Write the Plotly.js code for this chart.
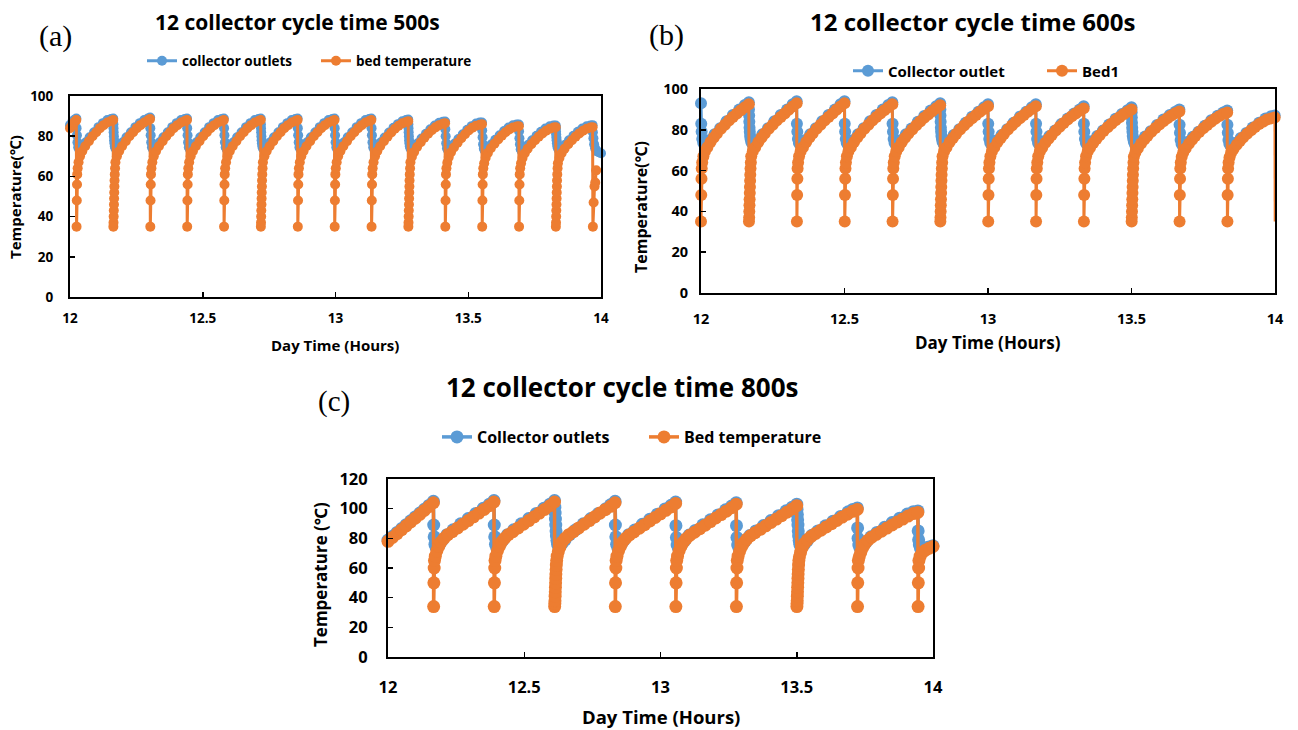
<!DOCTYPE html>
<html>
<head>
<meta charset="utf-8">
<script src="https://cdn.plot.ly/plotly-3.0.1.min.js"></script>
<style>html,body{margin:0;padding:0;background:#fff;}#chart{width:1298px;height:730px;}</style>
</head>
<body>
<div id="chart"></div>
<script>
// ---------- DATA (time in seconds after 12:00, temperatures in °C) ----------
// Panel (a): 12 collector, cycle time 500 s
const aColSec = [0,30,60,
 86,89,94,101,111,126,146,176,216,266,326,386,446,506,556,
 586,588,590,592,595,598,602,608,616,631,646,676,716,766,826,886,946,1006,1056,
 1086,1089,1094,1101,1111,1126,1146,1176,1216,1266,1326,1386,1446,1506,1556,
 1586,1589,1594,1601,1611,1626,1646,1676,1716,1766,1826,1886,1946,2006,2056,
 2086,2089,2094,2101,2111,2126,2146,2176,2216,2266,2326,2386,2446,2506,2556,
 2586,2588,2590,2592,2595,2598,2602,2608,2616,2631,2646,2676,2716,2766,2826,2886,2946,3006,3056,
 3086,3089,3094,3101,3111,3126,3146,3176,3216,3266,3326,3386,3446,3506,3556,
 3586,3589,3594,3601,3611,3626,3646,3676,3716,3766,3826,3886,3946,4006,4056,
 4086,4089,4094,4101,4111,4126,4146,4176,4216,4266,4326,4386,4446,4506,4556,
 4586,4588,4590,4592,4595,4598,4602,4608,4616,4631,4646,4676,4716,4766,4826,4886,4946,5006,5056,
 5086,5089,5094,5101,5111,5126,5146,5176,5216,5266,5326,5386,5446,5506,5556,
 5586,5589,5594,5601,5611,5626,5646,5676,5716,5766,5826,5886,5946,6006,6056,
 6086,6089,6094,6101,6111,6126,6146,6176,6216,6266,6326,6386,6446,6506,6556,
 6586,6588,6590,6592,6595,6598,6602,6608,6616,6631,6646,6676,6716,6766,6826,6886,6946,7006,7056,
 7086,7090,7097,7107,7120,7140,7170,7200];
const aColTemp = [85.5,87,88.2,
 88.8,84,80.5,77,74.5,73.5,73.8,75,77,79.5,82,84.5,86.5,88,88.5,
 88.8,86,84,82,80,78,76.5,75,74,73.5,73.8,75,77,79.5,82,84.5,86.5,88,88.8,
 89.3,84,80.5,77,74.5,73.5,73.8,75,77,79.5,82,84.5,86.5,88,88.5,
 88.8,84,80.5,77,74.5,73.5,73.8,75,77,79.5,82,84.5,86.5,88,88.5,
 88.8,84,80.5,77,74.5,73.5,73.8,75,77,79.5,82,84.5,86.5,88,88.5,
 88.8,86,84,82,80,78,76.5,75,74,73.5,73.8,75,77,79.5,82,84.5,86.5,88,88.5,
 88.8,84,80.5,77,74.5,73.5,73.8,75,77,79.5,82,84.5,86.5,88,88.5,
 88.8,84,80.5,77,74.5,73.5,73.8,75,77,79.5,82,84.5,86.5,88,88.5,
 88.8,84,80.5,77,74.5,73.5,73.8,75,77,79.3,81.8,84.2,86,87.4,88,
 88.3,86,84,82,80,78,76.5,75,74,73.3,73.5,74.6,76.5,78.8,81.2,83.4,85.3,86.7,87.2,
 87.3,83.5,80,76.5,74,73,73.3,74.5,76.4,78.6,81,83.2,85,86.3,86.8,
 86.8,83,79.5,76,73.8,72.8,73,74.2,76,78.2,80.5,82.6,84.3,85.4,85.8,
 85.8,82.5,79,76,73.5,72.5,72.7,74,75.8,78,80.2,82.2,83.8,84.9,85.3,
 85.3,84,82.5,81,79.5,78,76.5,75,74,73,72.8,74,75.8,78,80.2,82.2,83.8,84.9,85.3,
 85.5,82,79,76,74,72.5,72,71.5];
const aBedSec = [0,30,60,
 86,89,92,95,98,104,116,136,166,206,256,306,356,406,456,506,556,
 586,588,590,592,594,596,598,600,602,604,607,611,616,636,666,706,756,806,856,906,956,1006,1056,
 1086,1089,1092,1095,1098,1104,1116,1136,1166,1206,1256,1306,1356,1406,1456,1506,1556,
 1586,1589,1592,1595,1598,1604,1616,1636,1666,1706,1756,1806,1856,1906,1956,2006,2056,
 2086,2089,2092,2095,2098,2104,2116,2136,2166,2206,2256,2306,2356,2406,2456,2506,2556,
 2586,2588,2590,2592,2594,2596,2598,2600,2602,2604,2607,2611,2616,2636,2666,2706,2756,2806,2856,2906,2956,3006,3056,
 3086,3089,3092,3095,3098,3104,3116,3136,3166,3206,3256,3306,3356,3406,3456,3506,3556,
 3586,3589,3592,3595,3598,3604,3616,3636,3666,3706,3756,3806,3856,3906,3956,4006,4056,
 4086,4089,4092,4095,4098,4104,4116,4136,4166,4206,4256,4306,4356,4406,4456,4506,4556,
 4586,4588,4590,4592,4594,4596,4598,4600,4602,4604,4607,4611,4616,4636,4666,4706,4756,4806,4856,4906,4956,5006,5056,
 5086,5089,5092,5095,5098,5104,5116,5136,5166,5206,5256,5306,5356,5406,5456,5506,5556,
 5586,5589,5592,5595,5598,5604,5616,5636,5666,5706,5756,5806,5856,5906,5956,6006,6056,
 6086,6089,6092,6095,6098,6104,6116,6136,6166,6206,6256,6306,6356,6406,6456,6506,6556,
 6586,6588,6590,6592,6594,6596,6598,6600,6602,6604,6607,6611,6616,6636,6666,6706,6756,6806,6856,6906,6956,7006,7056,
 7086,7090,7100,7112,7122,7135];
const aBedTemp = [84,85.5,87,
 88,35,48,56,61,64,67,70,72.5,75,77.5,80,82,84,85.5,86.8,87.6,
 88,35,37,40,43,46,49,52,55,58,61,64,67,70,72.5,75,77.5,80,82,84,85.5,86.8,87.9,
 88.5,35,48,56,61,64,67,70,72.5,75,77.5,80,82,84,85.5,86.8,87.6,
 88,35,48,56,61,64,67,70,72.5,75,77.5,80,82,84,85.5,86.8,87.6,
 88,35,48,56,61,64,67,70,72.5,75,77.5,80,82,84,85.5,86.8,87.6,
 88,35,37,40,43,46,49,52,55,58,61,64,67,70,72.5,75,77.5,80,82,84,85.5,86.8,87.6,
 88,35,48,56,61,64,67,70,72.5,75,77.5,80,82,84,85.5,86.8,87.6,
 88,35,48,56,61,64,67,70,72.5,75,77.5,80,82,84,85.5,86.8,87.6,
 88,35,48,56,61,64,67,70,72.5,75,77.5,79.8,81.8,83.7,85.2,86.4,87.1,
 87.5,35,37,40,43,46,49,52,55,58,61,64,67,69.8,72.2,74.6,77,79.3,81.2,83,84.4,85.5,86.2,
 86.5,35,48,56,61,64,66.8,69.6,72,74.4,76.8,79,81,82.8,84.2,85.2,85.7,
 86,35,48,56,61,64,66.5,69.3,71.7,74,76.3,78.4,80.3,82,83.3,84.3,84.8,
 85,35,48,56,61,64,66.5,69.2,71.5,73.8,76,78,79.8,81.4,82.7,83.7,84.3,
 84.5,35,37,40,43,46,49,52,55,58,61,64,66.5,69.2,71.5,73.8,76,78,79.8,81.4,82.7,83.7,84.3,
 84.5,35,47,55,57,63];

// Panel (b): 12 collector, cycle time 600 s
const bColSec = [0,3,8,16,28,45,70,110,170,240,320,400,480,550,
 600,602,604,606,609,612,616,622,630,645,670,710,770,840,920,1000,1080,1150,
 1200,1203,1208,1216,1228,1245,1270,1310,1370,1440,1520,1600,1680,1750,
 1800,1803,1808,1816,1828,1845,1870,1910,1970,2040,2120,2200,2280,2350,
 2400,2403,2408,2416,2428,2445,2470,2510,2570,2640,2720,2800,2880,2950,
 3000,3002,3004,3006,3009,3012,3016,3022,3030,3045,3070,3110,3170,3240,3320,3400,3480,3550,
 3600,3603,3608,3616,3628,3645,3670,3710,3770,3840,3920,4000,4080,4150,
 4200,4203,4208,4216,4228,4245,4270,4310,4370,4440,4520,4600,4680,4750,
 4800,4803,4808,4816,4828,4845,4870,4910,4970,5040,5120,5200,5280,5350,
 5400,5402,5404,5406,5409,5412,5416,5422,5430,5445,5470,5510,5570,5640,5720,5800,5880,5950,
 6000,6003,6008,6016,6028,6045,6070,6110,6170,6240,6320,6400,6480,6550,
 6600,6603,6608,6616,6628,6645,6670,6710,6770,6840,6920,7000,7080,7150,
 7196];
const bColTemp = [93,83,79,75.5,73.5,73,73.5,75,77.8,80.8,84.2,87.2,90,92.2,
 93.5,90,87,84,81,79,77,75.5,74,73,73.5,75,77.8,80.8,84.2,87.2,90,92.5,
 94,83,79,75.5,73.5,73,73.5,75,77.8,80.8,84.2,87.2,90,92.5,
 94,83,79,75.5,73.5,73,73.5,75,77.8,80.8,84.2,87.2,90,92.2,
 93.5,83,79,75.5,73.5,73,73.5,75,77.8,80.6,83.9,86.8,89.5,91.6,
 93,90,87,84,81,79,77,75.5,74,73,73.3,74.9,77.5,80.3,83.5,86.4,88.9,91,
 92.5,83,79,75.5,73.5,73,73.3,74.9,77.5,80.3,83.5,86.4,88.9,91,
 92.5,83,79,75.5,73.5,72.8,73,74.5,77,79.7,82.8,85.6,88,90,
 91.5,83,79,75.5,73.5,72.8,73,74.5,77,79.6,82.6,85.4,87.7,89.6,
 91,88.5,86,83.5,81,79,77,75.5,74,72.8,73,74.3,76.7,79.3,82.3,85,87.2,88.9,
 90,82.5,78.5,75,73,72.5,72.8,74.2,76.6,79.1,82,84.7,86.9,88.5,
 89.5,82.5,78.5,75,73,72.3,72.5,73.7,76,78.4,81.1,83.5,85.5,86.6,
 87];
const bBedSec = [0,3,6,9,15,30,50,80,120,160,200,250,300,350,400,450,500,550,
 600,602,604,606,608,610,612,614,616,618,621,625,630,650,680,720,760,800,850,900,950,1000,1050,1100,1150,
 1200,1203,1206,1209,1212,1218,1230,1250,1280,1320,1360,1400,1450,1500,1550,1600,1650,1700,1750,
 1800,1803,1806,1809,1812,1818,1830,1850,1880,1920,1960,2000,2050,2100,2150,2200,2250,2300,2350,
 2400,2403,2406,2409,2412,2418,2430,2450,2480,2520,2560,2600,2650,2700,2750,2800,2850,2900,2950,
 3000,3002,3004,3006,3008,3010,3012,3014,3016,3018,3021,3025,3030,3050,3080,3120,3160,3200,3250,3300,3350,3400,3450,3500,3550,
 3600,3603,3606,3609,3612,3618,3630,3650,3680,3720,3760,3800,3850,3900,3950,4000,4050,4100,4150,
 4200,4203,4206,4209,4212,4218,4230,4250,4280,4320,4360,4400,4450,4500,4550,4600,4650,4700,4750,
 4800,4803,4806,4809,4812,4818,4830,4850,4880,4920,4960,5000,5050,5100,5150,5200,5250,5300,5350,
 5400,5402,5404,5406,5408,5410,5412,5414,5416,5418,5421,5425,5430,5450,5480,5520,5560,5600,5650,5700,5750,5800,5850,5900,5950,
 6000,6003,6006,6009,6012,6018,6030,6050,6080,6120,6160,6200,6250,6300,6350,6400,6450,6500,6550,
 6600,6603,6606,6609,6612,6618,6630,6650,6680,6720,6760,6800,6850,6900,6950,7000,7050,7100,7150,
 7196];
const bBedTemp = [35,48,56,61,64,67,69.5,71.5,74,76.2,78.2,80.5,82.5,84.5,86.3,88,89.6,91.1,
 92.5,35,37,40,43,46,49,52,55,58,61,64,67,69.5,71.5,74,76.2,78.2,80.5,82.5,84.5,86.3,88,89.8,91.4,
 93,35,48,56,61,64,67,69.5,71.5,74,76.2,78.2,80.5,82.5,84.5,86.3,88,89.8,91.4,
 93,35,48,56,61,64,67,69.5,71.5,74,76.2,78.2,80.5,82.5,84.5,86.3,88,89.6,91.1,
 92.5,35,48,56,61,64,67,69.5,71.5,74,76.1,78,80.2,82.2,84.1,85.9,87.5,89.1,90.6,
 92,35,37,40,43,46,49,52,55,58,61,64,67,69.5,71.5,74,76,77.9,80.1,82.1,84,85.7,87.3,88.8,90.2,
 91.5,35,48,56,61,64,67,69.5,71.5,74,76,77.9,80.1,82.1,84,85.7,87.3,88.8,90.2,
 91.5,35,48,56,61,64,67,69.3,71.2,73.6,75.6,77.5,79.6,81.5,83.3,85,86.6,88,89.3,
 90.5,35,48,56,61,64,67,69.3,71.2,73.5,75.5,77.3,79.4,81.3,83,84.7,86.2,87.6,88.9,
 90,35,37,40,43,46,49,52,55,58,61,64,66.8,69,71,73.3,75.2,77,79,80.9,82.6,84.2,85.7,87,88.1,
 89,35,48,56,61,64,66.8,69,71,73.2,75.1,76.9,78.9,80.7,82.4,84,85.4,86.7,87.7,
 88.5,35,48,56,61,64,66.5,68.7,70.6,72.7,74.5,76.2,78.1,79.8,81.4,82.8,84,85,85.6,
 86];
const bTailSec = [7196,7199.6];
const bTailTemp = [86,35];

// Panel (c): 12 collector, cycle time 800 s
const cColSec = [0,60,120,180,240,300,360,420,480,540,
 600,604,610,620,635,655,680,720,780,860,960,1060,1160,1260,1340,
 1400,1404,1410,1420,1435,1455,1480,1520,1580,1660,1760,1860,1960,2060,2140,
 2200,2204,2208,2212,2216,2220,2225,2232,2240,2255,2275,2300,2340,2400,2480,2580,2680,2780,2880,2940,
 3000,3004,3010,3020,3035,3055,3080,3120,3180,3260,3360,3460,3560,3660,3740,
 3800,3804,3810,3820,3835,3855,3880,3920,3980,4060,4160,4260,4360,4460,4540,
 4600,4604,4610,4620,4635,4655,4680,4720,4780,4860,4960,5060,5160,5260,5340,
 5400,5404,5408,5412,5416,5420,5425,5432,5440,5455,5475,5500,5540,5600,5680,5780,5880,5980,6080,6140,
 6200,6204,6210,6220,6235,6255,6280,6320,6380,6460,6560,6660,6760,6860,6940,
 7000,7004,7010,7020,7035,7055,7080,7120,7160,7200];
const cColTemp = [78.8,81.4,84,86.6,89.2,91.8,94.4,97,99.6,102.2,
 105,89,81,76,74,74.5,76,78.8,82.5,85.8,89.8,93.3,96.8,100.3,103,
 105.5,89,81,76,74,74.5,76,78.8,82.5,85.8,89.8,93.3,96.8,100.3,103,
 105.5,101,97,93,89,85,81.5,78.5,76,74.5,75,76.5,79,82.5,85.8,89.8,93.3,96.8,100,102.6,
 105,89,81,76,74,74.5,76,78.8,82.5,85.6,89.5,92.9,96.3,99.8,102.3,
 104.5,88.5,80.5,75.5,73.8,74.3,75.8,78.5,82.2,85.3,89.1,92.5,95.8,99.2,101.8,
 104,88.5,80.5,75.5,73.8,74.2,75.6,78.3,81.9,85,88.6,92,95.3,98.6,101,
 103,99.5,96,92.5,89,85,81.5,78.5,76,74.3,74.5,76,78.5,82,85,88.4,91.6,94.8,97.9,99.5,
 100.5,87,80,75.5,73.5,73.8,75,77.6,81,84,87.4,90.6,93.6,96.4,98,
 98.5,85,79,75.5,73.3,72.8,73.2,73.8,74.3,75];
const cBedSec = [0,60,120,180,240,300,360,420,480,540,
 600,603,606,610,614,625,645,670,700,740,790,850,920,990,1060,1130,1200,1270,1340,
 1400,1403,1406,1410,1414,1425,1445,1470,1500,1540,1590,1650,1720,1790,1860,1930,2000,2070,2140,
 2200,2202,2204,2206,2208,2210,2212,2214,2216,2218,2221,2224,2228,2235,2250,2270,2300,2340,2390,2450,2520,2590,2660,2730,2800,2870,2940,
 3000,3003,3006,3010,3014,3025,3045,3070,3100,3140,3190,3250,3320,3390,3460,3530,3600,3670,3740,
 3800,3803,3806,3810,3814,3825,3845,3870,3900,3940,3990,4050,4120,4190,4260,4330,4400,4470,4540,
 4600,4603,4606,4610,4614,4625,4645,4670,4700,4740,4790,4850,4920,4990,5060,5130,5200,5270,5340,
 5400,5402,5404,5406,5408,5410,5412,5414,5416,5418,5421,5424,5428,5435,5450,5470,5500,5540,5590,5650,5720,5790,5860,5930,6000,6070,6140,
 6200,6203,6206,6210,6214,6225,6245,6270,6300,6340,6390,6450,6520,6590,6660,6730,6800,6870,6940,
 7000,7003,7006,7010,7014,7030,7060,7100,7150,7200];
const cBedTemp = [78,80.6,83.2,85.8,88.4,91,93.6,96.2,98.8,101.4,
 104,34,50,60,65,68,71.5,74.5,77.5,80,82.5,84.5,87,89.5,92,94.5,97,99.5,102,
 104.5,34,50,60,65,68,71.5,74.5,77.5,80,82.5,84.5,87,89.5,92,94.5,97,99.5,102,
 104.5,34,36,38,41,44,47,50,53,56,59,62,65,68,71,74,77.5,80,82.5,84.5,87,89.5,92,94.5,97,99.3,101.6,
 104,34,50,60,65,68,71.5,74.5,77.5,80,82.3,84.3,86.8,89.2,91.7,94.1,96.5,98.9,101.2,
 103.5,34,50,60,65,68,71.5,74.5,77.3,79.8,82.1,84.1,86.5,88.9,91.3,93.7,96,98.3,100.7,
 103,34,50,60,65,68,71.3,74.2,77,79.5,81.8,83.8,86.1,88.4,90.7,93,95.3,97.6,99.8,
 102,34,36,38,41,44,47,50,53,56,59,62,65,67.5,70.5,73.5,76.5,79,81.3,83.3,85.5,87.7,89.9,92.1,94.3,96.3,98.2,
 99.5,34,50,60,65,67.5,70.5,73.5,76.3,78.7,80.8,82.7,84.8,86.9,89,91,93,95,96.7,
 97.5,34,50,60,65,68,70.5,72,73.3,74.5];

// Text
const titles = ['12 collector cycle time 500s','12 collector cycle time 600s','12 collector cycle time 800s'];
const panelLabels = ['(a)','(b)','(c)'];
const legendNames = [['collector outlets','bed temperature'],['Collector outlet','Bed1'],['Collector outlets','Bed temperature']];
const yTitles = ['Temperature(\u2103)','Temperature(\u2103)','Temperature (\u2103)'];
const xTitle = 'Day Time (Hours)';
const xTickVals = [12,12.5,13,13.5,14];
const xTickText = ['12','12.5','13','13.5','14'];

// ---------- PLOT ----------
const W = 1298, H = 730;
const BLUE = '#5B9BD5', ORANGE = '#ED7D31';
const FONT = 'Open Sans, Noto Sans, DejaVu Sans, sans-serif';
const toHours = s => s.map(v => 12 + v / 3600);
const px = x => x / W, py = y => 1 - y / H;

function series(sec, temp, name, color, ax, legend, msize, lw) {
  return {
    x: toHours(sec), y: temp, name: name, type: 'scatter', mode: 'lines+markers',
    xaxis: 'x' + ax, yaxis: 'y' + ax, legend: legend,
    line: {color: color, width: lw}, marker: {color: color, size: msize, line: {width: 0}},
    cliponaxis: false, hoverinfo: 'skip'
  };
}

const data = [
  series(aColSec, aColTemp, legendNames[0][0], BLUE, '', 'legend', 10, 3),
  series(aBedSec, aBedTemp, legendNames[0][1], ORANGE, '', 'legend', 10, 3),
  series(bColSec, bColTemp, legendNames[1][0], BLUE, '2', 'legend2', 12, 3),
  series(bBedSec, bBedTemp, legendNames[1][1], ORANGE, '2', 'legend2', 12, 3),
  {x: toHours(bTailSec), y: bTailTemp, type: 'scatter', mode: 'lines', xaxis: 'x2', yaxis: 'y2',
   line: {color: ORANGE, width: 2.5}, showlegend: false, hoverinfo: 'skip'},
  series(cColSec, cColTemp, legendNames[2][0], BLUE, '3', 'legend3', 13, 3.5),
  series(cBedSec, cBedTemp, legendNames[2][1], ORANGE, '3', 'legend3', 13, 3.5)
];

function xAx(dom, anchor, fs, standoff) {
  return {domain: dom, anchor: anchor, range: [12, 14], tickvals: xTickVals, ticktext: xTickText,
    showline: true, linecolor: '#000', linewidth: 2, mirror: true, ticks: 'inside', ticklen: 5,
    tickwidth: 1.5, tickcolor: '#000', showgrid: false, zeroline: false, ticklabelstandoff: standoff,
    tickfont: {family: FONT, size: fs, color: '#000', weight: 'bold'}, fixedrange: true};
}
function yAx(dom, anchor, range, dtick, fs, standoff) {
  return {domain: dom, anchor: anchor, range: range, dtick: dtick, tick0: 0,
    showline: true, linecolor: '#000', linewidth: 2, mirror: true, ticks: 'inside', ticklen: 5,
    tickwidth: 1.5, tickcolor: '#000', showgrid: false, zeroline: false, ticklabelstandoff: standoff,
    tickfont: {family: FONT, size: fs, color: '#000', weight: 'bold'}, fixedrange: true};
}

function ann(text, x, y, size, opts) {
  return Object.assign({text: text, x: px(x), y: py(y), xref: 'paper', yref: 'paper',
    xanchor: 'center', yanchor: 'middle', showarrow: false,
    font: {family: FONT, size: size, color: '#000', weight: 'bold'}}, opts || {});
}
const SERIF = 'Liberation Serif, DejaVu Serif, serif';

function leg(x, y, fs, ew) {
  return {orientation: 'h', x: px(x), y: py(y), xanchor: 'left', yanchor: 'middle',
    bgcolor: 'rgba(0,0,0,0)', entrywidth: ew, entrywidthmode: 'pixels',
    font: {family: FONT, size: fs, color: '#000', weight: 'bold'}, traceorder: 'normal'};
}

const layout = {
  width: W, height: H, margin: {l: 0, r: 0, t: 0, b: 0},
  paper_bgcolor: '#fff', plot_bgcolor: '#fff', showlegend: true,
  xaxis: xAx([px(70), px(601)], 'y', 13.5, 8),
  yaxis: yAx([py(297), py(96)], 'x', [0, 100], 20, 13.5, 12),
  xaxis2: xAx([px(701), px(1275)], 'y2', 14.5, 12),
  yaxis2: yAx([py(293), py(89)], 'x2', [0, 100], 20, 14.5, 8),
  xaxis3: xAx([px(388), px(933)], 'y3', 16.5, 14),
  yaxis3: yAx([py(657), py(479)], 'x3', [0, 120], 20, 16.5, 15),
  legend: leg(142, 61, 13.5, 129),
  legend2: leg(848, 71, 15, 149),
  legend3: leg(437, 437, 16, 162),
  annotations: [
    ann(titles[0], 297, 22, 21),
    ann(titles[1], 972, 22, 24),
    ann(titles[2], 622, 387, 26),
    ann(panelLabels[0], 55, 36, 30, {font: {family: SERIF, size: 30, color: '#000'}}),
    ann(panelLabels[1], 666, 35, 30, {font: {family: SERIF, size: 30, color: '#000'}}),
    ann(panelLabels[2], 334, 402, 29, {font: {family: SERIF, size: 29, color: '#000'}}),
    ann(yTitles[0], 15, 197, 15, {textangle: -90}),
    ann(yTitles[1], 641, 207, 16, {textangle: -90}),
    ann(yTitles[2], 320, 575, 17, {textangle: -90}),
    ann(xTitle, 335, 345, 15),
    ann(xTitle, 988, 342, 17),
    ann(xTitle, 661, 716, 18.5)
  ]
};

Plotly.newPlot('chart', data, layout, {staticPlot: true, displayModeBar: false});
</script>
</body>
</html>
